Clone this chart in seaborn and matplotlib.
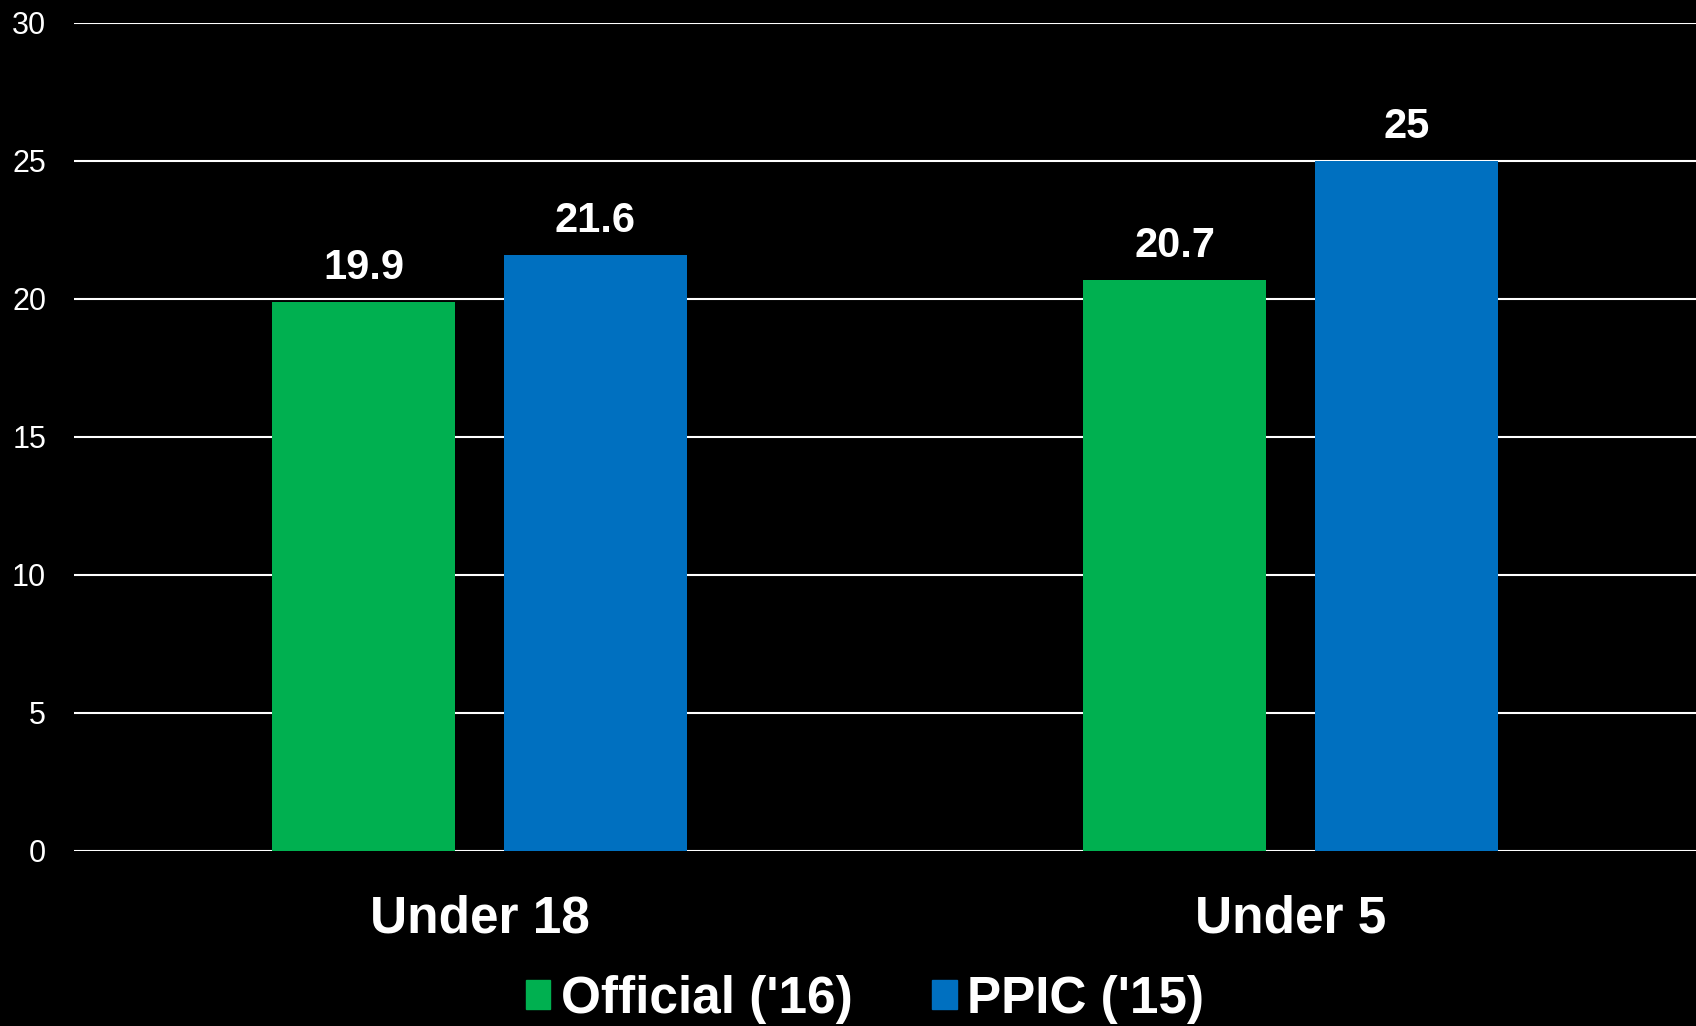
import matplotlib
matplotlib.use("Agg")
import matplotlib.pyplot as plt
import pandas as pd
import seaborn as sns

# Data
categories = ["Under 18", "Under 5"]
official_16 = [19.9, 20.7]
ppic_15 = [21.6, 25.0]
series_names = ["Official ('16)", "PPIC ('15)"]
colors = ["#00B050", "#0070C0"]

df = pd.DataFrame({
    "group": categories * 2,
    "series": [series_names[0]] * 2 + [series_names[1]] * 2,
    "value": official_16 + ppic_15,
})

sns.set_style("dark")
plt.rcParams["font.family"] = ["Liberation Sans", "DejaVu Sans"]

fig = plt.figure(figsize=(16.96, 10.26), dpi=100, facecolor="black")
ax = fig.add_axes([0.0436, 0.1706, 0.9564, 0.8072])
ax.set_facecolor("black")

sns.barplot(data=df, x="group", y="value", hue="series", palette=colors,
            width=0.571, gap=0.21, saturation=1, linewidth=0,
            ax=ax, legend=False)

# value labels on top of bars
for cont in ax.containers:
    ax.bar_label(cont, labels=[f"{v:g}" for v in cont.datavalues],
                 padding=10, color="white", fontsize=30, fontweight="bold")

ax.set_ylim(0, 30)
ax.set_xlim(-0.5, 1.5)
ax.set_yticks([0, 5, 10, 15, 20, 25, 30])
ax.grid(axis="y", color="white", linewidth=1.5)
ax.grid(axis="x", visible=False)
ax.set_axisbelow(True)
for s in ax.spines.values():
    s.set_visible(False)

ax.tick_params(axis="y", colors="white", labelsize=22, length=0, pad=20)
ax.tick_params(axis="x", colors="white", labelsize=37, length=0, pad=31)
for lbl in ax.get_xticklabels():
    lbl.set_fontweight("bold")
ax.set_xlabel("")
ax.set_ylabel("")

# legend at the bottom
handles = [plt.Rectangle((0, 0), 1, 1, color=c) for c in colors]
leg = fig.legend(handles, series_names, loc="lower center", bbox_to_anchor=(0.51, -0.043),
                 ncol=2, frameon=False, fontsize=37,
                 handlelength=0.48, handleheight=0.48, handletextpad=0.2, columnspacing=1.55)
for t in leg.get_texts():
    t.set_color("white")
    t.set_fontweight("bold")

fig.savefig("out.png", dpi=100, facecolor="black")
